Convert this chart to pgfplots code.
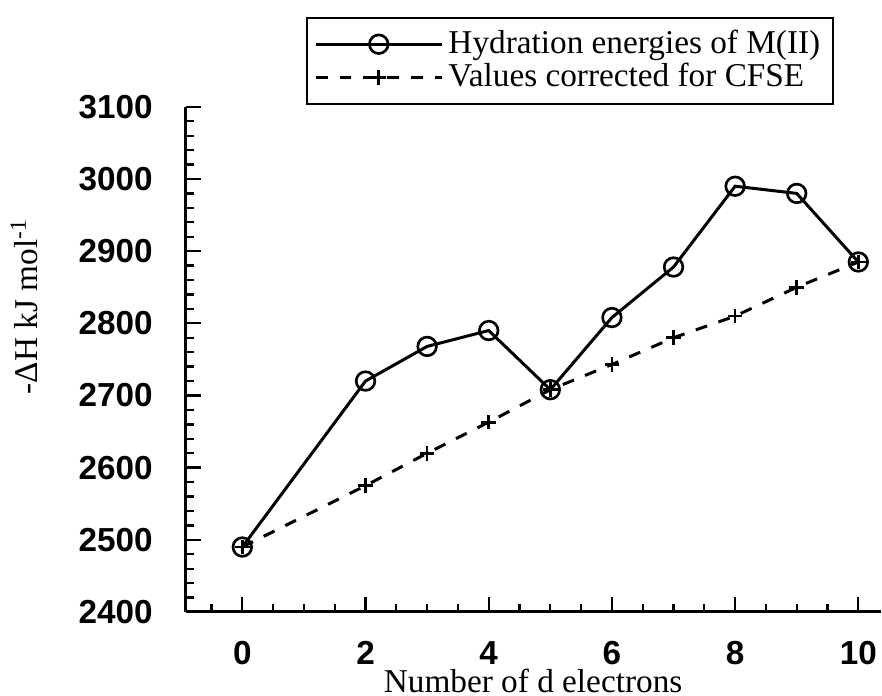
\documentclass[border=0pt]{standalone}
\usepackage{fontspec}
\setmainfont{Liberation Serif}
\newfontfamily\tickfont{Liberation Sans}
\usepackage{pgfplots}
\pgfplotsset{compat=1.18}
\pgfplotstableread{
x y
0 2490
2 2720
3 2768
4 2790
5 2708
6 2808
7 2878
8 2990
9 2980
10 2885
}\hydration
\pgfplotstableread{
x y
0 2490
2 2575
3 2620
4 2663
5 2708
6 2743
7 2780
8 2810
9 2850
10 2885
}\corrected
\begin{document}
\begin{tikzpicture}
\begin{axis}[
  scale only axis, width=208.8pt, height=151.8pt,
  xmin=-0.92, xmax=10.36, ymin=2400, ymax=3100,
  clip=false,
  axis x line=bottom, axis y line=left,
  axis line style={-, line width=0.9pt},
  xtick={0,2,...,10}, minor xtick={-0.5,0,...,10},
  ytick={2400,2500,...,3100}, minor ytick={2400,2420,...,3100},
  tick align=inside, major tick length=4.5pt, minor tick length=2.4pt,
  every tick/.style={line width=0.7pt, black},
  tick label style={font=\tickfont\bfseries, inner sep=0pt},
  /pgf/number format/assume math mode=true,
  /pgf/number format/set thousands separator={},
  yticklabel style={xshift=-9.7pt},
  xticklabel style={yshift=-8.7pt},
  xlabel={Number of d electrons},
  ylabel={-ΔH kJ mol\textsuperscript{-1}},
  xlabel style={at={(axis description cs:0.5,-0.160)}, anchor=base, inner sep=0pt},
  ylabel style={at={(axis description cs:-0.2126,0.605)}, anchor=base, inner sep=0pt},
  legend style={at={(axis description cs:0.9325,1.004)}, anchor=south east,
    draw=black, line width=0.6pt, inner sep=2.2pt, row sep=-1.6pt,
    nodes={inner sep=1.5pt}, font=\normalsize},
  legend cell align=left,
  legend image code/.code={\draw[mark repeat=2, mark phase=2, #1]
     plot coordinates {(0pt,0pt) (19pt,0pt) (38pt,0pt)};},
]
\addplot[black, line width=0.9pt, mark=o, mark size=2.8pt,
  mark options={line width=0.8pt}] table[x=x,y=y] {\hydration};
\addlegendentry{Hydration energies of M(II)}
\addplot[black, line width=0.9pt, dash pattern=on 3.6pt off 3.6pt, mark=+, mark size=2.2pt,
  mark options={solid, line width=0.8pt}] table[x=x,y=y] {\corrected};
\addlegendentry{Values corrected for CFSE}
\path (rel axis cs:-0.2672,-0.166) rectangle (rel axis cs:1.0,1.2115);
\end{axis}
\end{tikzpicture}
\end{document}
